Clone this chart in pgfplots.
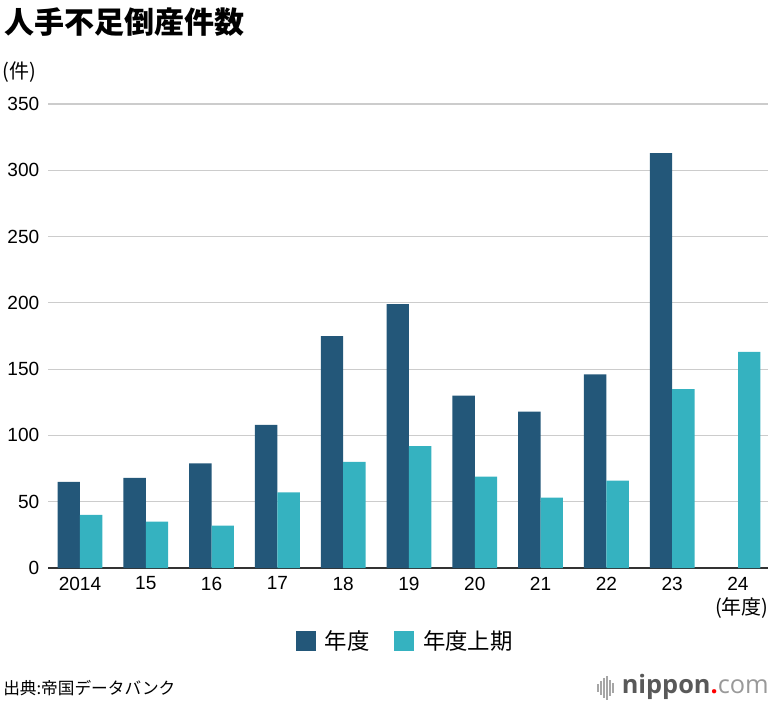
\documentclass[border=0pt]{standalone}
\usepackage{pgfplots}
\pgfplotsset{compat=1.18}
\usepackage{fontspec}
\setmainfont{Liberation Sans}
\newfontfamily\jp{Noto Sans CJK JP}
\newfontfamily\logo{Open Sans}
\definecolor{darkbar}{HTML}{235779}
\definecolor{lightbar}{HTML}{35B2C0}
\definecolor{gridc}{HTML}{CCCCCC}
\begin{document}
\begin{tikzpicture}[x=0.75pt,y=-0.75pt]
\path[use as bounding box] (0,0) rectangle (771,702);
\coordinate (O) at (48,568);
\begin{axis}[at={(O)}, anchor=south west, scale only axis,
  width=540pt, height=348pt,
  xmin=-0.486, xmax=10.456, ymin=0, ymax=350,
  enlargelimits=false,
  ybar=0pt, bar width=16.8pt,
  axis x line*=bottom, axis y line*=left,
  y axis line style={draw=none},
  x axis line style={draw=black!80, line width=1pt},
  major tick length=0pt,
  ytick={0,50,...,350},
  xtick={0,...,10},
  xticklabels={2014,15,16,17,18,19,20,21,22,23,24},
  ymajorgrids, grid style={draw=gridc, line width=0.8pt},
  tick label style={font=\fontsize{14.3}{16}\selectfont},
  /pgf/number format/assume math mode=true,
  yticklabel style={anchor=east, xshift=-3pt},
  xticklabel style={yshift=-3pt},
  legend style={at={(0.4965,-0.157)}, anchor=center, draw=none, fill=none,
    legend columns=-1, font=\jp\fontsize{16.8}{18}\selectfont,
    /tikz/every odd column/.append style={column sep=5pt},
    /tikz/every even column/.append style={column sep=16pt}},
  legend image code/.code={\fill[#1] (0pt,-7.5pt) rectangle (15pt,7.5pt);},
]
\addplot[fill=darkbar, draw=none] coordinates {
 (0,65) (1,68) (2,79) (3,108) (4,175) (5,199) (6,130) (7,118) (8,146) (9,313)};
\addplot[fill=lightbar, draw=none] coordinates {
 (0,40) (1,35) (2,32) (3,57) (4,80) (5,92) (6,69) (7,53) (8,66) (9,135) (10,163)};
\legend{年度,年度上期}
\end{axis}
\node[anchor=west, inner sep=0pt] at (4,22) {\jp\bfseries\fontsize{22.5}{24}\selectfont 人手不足倒産件数};
\node[anchor=west, inner sep=0pt] at (2,72) {\jp\fontsize{15}{16}\selectfont (件)};
\node[anchor=east, inner sep=0pt] at (769,608) {\jp\fontsize{15}{16}\selectfont (年度)};
\node[anchor=west, inner sep=0pt] at (3,688) {\jp\fontsize{12.5}{14}\selectfont 出典:帝国データバンク};
\node[anchor=east, inner sep=0pt] at (769,687) {\logo\fontsize{19}{20}\selectfont{\color{black!65}\bfseries nippon}{\color{red}\bfseries .}{\color{black!40}com}};
\foreach \xx/\hh in {598/4,601/7,604/10,607/12,610/8,613/5}
  \draw[black!35, line width=1.2pt] (\xx,688-\hh) -- (\xx,688+\hh);
\end{tikzpicture}
\end{document}
